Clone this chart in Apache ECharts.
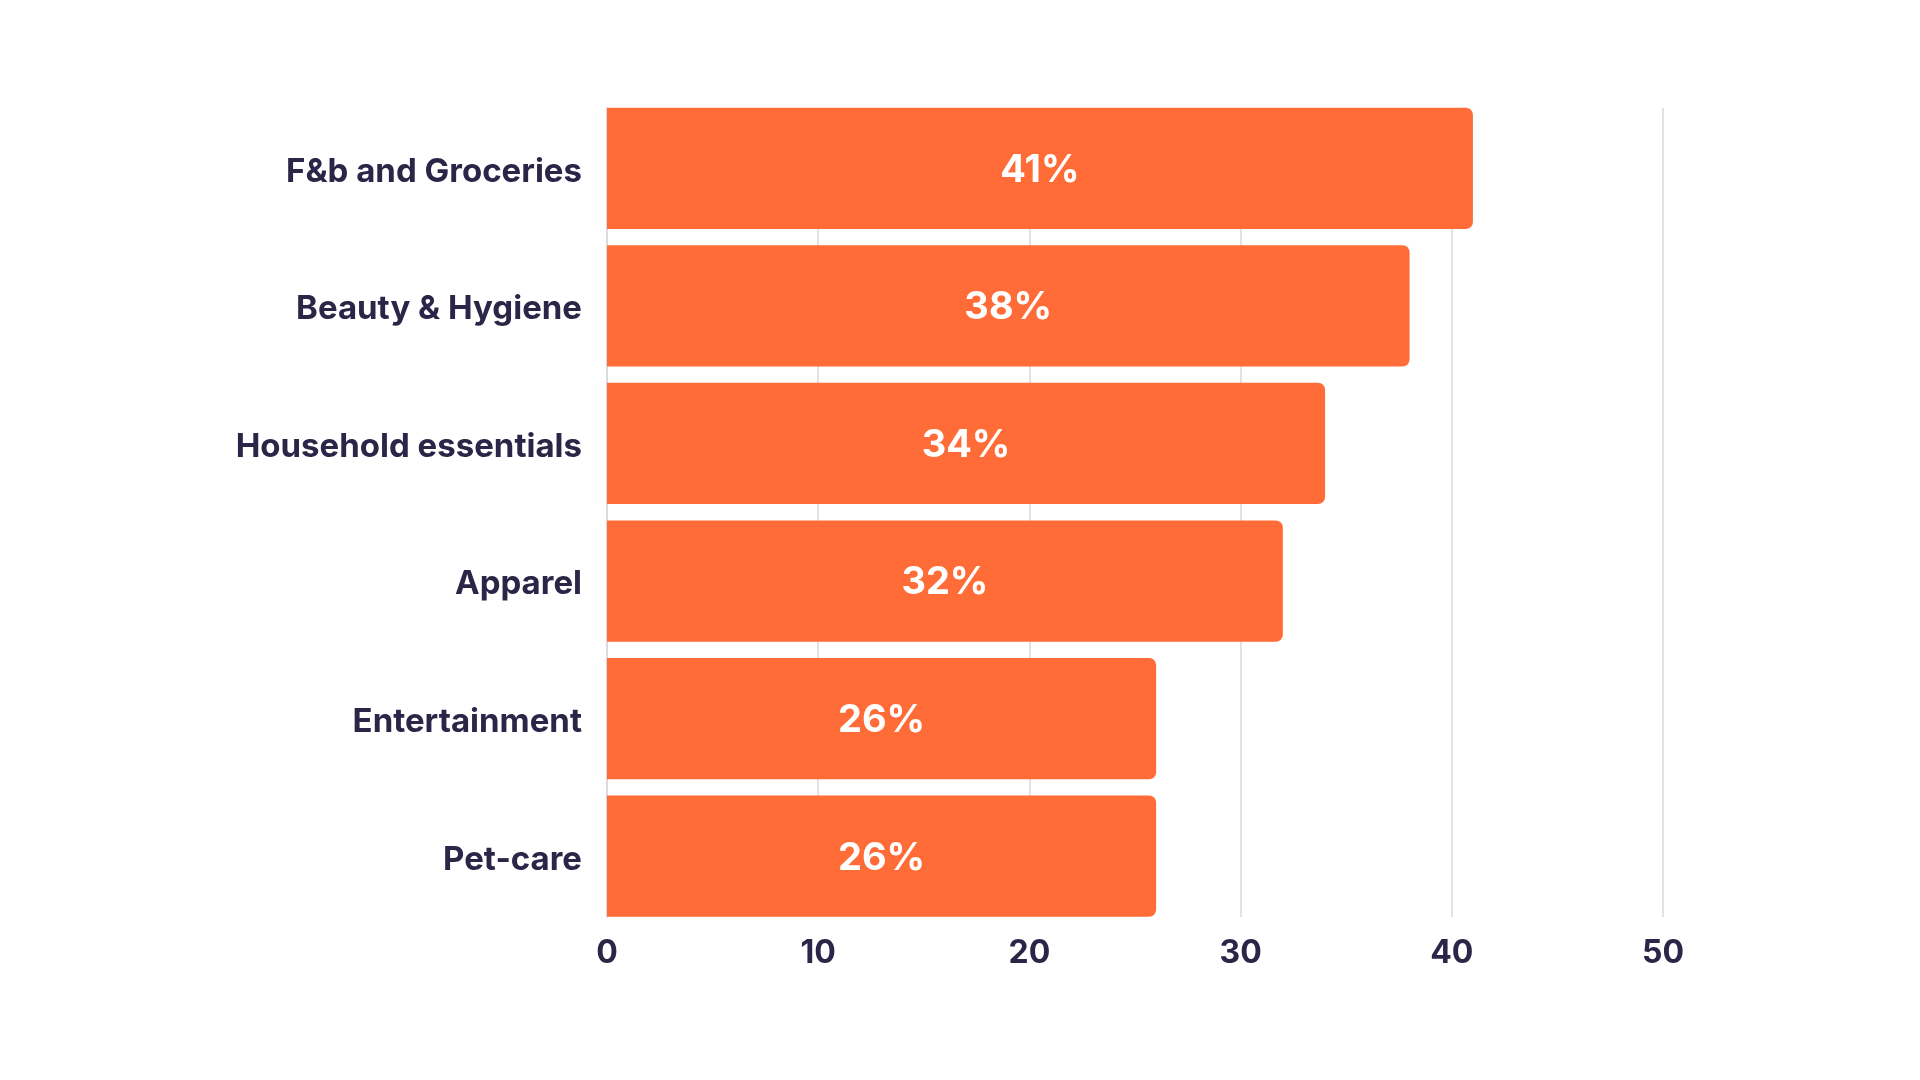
<!DOCTYPE html>
<html>
<head>
<meta charset="utf-8">
<script src="https://cdn.jsdelivr.net/npm/echarts@6/dist/echarts.min.js"></script>
<style>
html,body{margin:0;padding:0;background:#fff;}
#chart{width:1920px;height:1080px;}
</style>
</head>
<body>
<div id="chart"></div>
<script>
const categories = ['F&b and Groceries', 'Beauty & Hygiene', 'Household essentials', 'Apparel', 'Entertainment', 'Pet-care'];
const values = [41, 38, 34, 32, 26, 26];
const xTicks = { min: 0, max: 50, interval: 10 };

const textColor = '#2B2548';
const barColor = '#FF6C37';
const fontFamily = 'Inter, "Noto Sans", sans-serif';

const chart = echarts.init(document.getElementById('chart'));
chart.setOption({
  backgroundColor: '#ffffff',
  animation: false,
  grid: [
    { left: 607, right: 257, top: 99.5, bottom: 155, containLabel: false },
    { left: 607, right: 257, top: 108, bottom: 163, containLabel: false }
  ],
  xAxis: [
    {
      gridIndex: 0, type: 'value', min: xTicks.min, max: xTicks.max, interval: xTicks.interval,
      axisLine: { show: false }, axisTick: { show: false }, axisLabel: { show: false }, splitLine: { show: false }
    },
    {
      gridIndex: 1, type: 'value', min: xTicks.min, max: xTicks.max, interval: xTicks.interval,
      axisLine: { show: false }, axisTick: { show: false },
      axisLabel: { show: true, margin: 20, color: textColor, fontSize: 32, fontWeight: 700, fontFamily: fontFamily },
      splitLine: { show: true, lineStyle: { color: '#D8D8DD', width: 1.5 } }
    }
  ],
  yAxis: [
    {
      gridIndex: 0, type: 'category', data: categories, inverse: true,
      axisLine: { show: false }, axisTick: { show: false },
      axisLabel: {
        margin: 25,
        formatter: function (v) { return '{a|' + v + '}'; },
        rich: { a: { padding: [7, 0, 0, 0], color: textColor, fontSize: 33, fontWeight: 700, fontFamily: fontFamily } }
      }
    },
    {
      gridIndex: 1, type: 'category', data: categories, inverse: true,
      axisLine: { show: true, lineStyle: { color: '#D8D8DD', width: 1.5 } },
      axisTick: { show: false }, axisLabel: { show: false }
    }
  ],
  series: [
    {
      type: 'bar', xAxisIndex: 0, yAxisIndex: 0, data: values, z: 5,
      barCategoryGap: '11.85%',
      itemStyle: { color: barColor, borderRadius: [0, 7, 7, 0] },
      label: {
        show: true, position: 'inside', formatter: '{c}%', offset: [0, 2],
        color: '#ffffff', fontSize: 38, fontWeight: 700, fontFamily: fontFamily
      }
    }
  ]
});
</script>
</body>
</html>
